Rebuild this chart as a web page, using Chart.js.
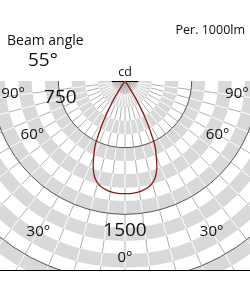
<!DOCTYPE html>
<html><head><meta charset="utf-8">
<script src="https://cdn.jsdelivr.net/npm/chart.js@4/dist/chart.umd.min.js"></script>
<style>
html,body{margin:0;padding:0;background:#fff;overflow:hidden;}
#wrap{position:relative;width:250px;height:294px;}
canvas{position:absolute;left:0;top:0;}
</style></head><body>
<div id="wrap"><canvas id="c" width="250" height="294"></canvas></div>
<script>
// ---- data ----
const gammaAngles = [0, 2.5, 5, 7.5, 10, 12.5, 15, 17.5, 20, 22.5, 25, 26, 27, 28, 29, 30, 31, 32, 33, 34, 35];
const intensityCd = [1268, 1267, 1263, 1255, 1240, 1220, 1188, 1135, 1045, 920, 790, 700, 615, 530, 450, 365, 275, 185, 105, 40, 0];
const ringValues = [750, 1500, 2250];
const ringLabels = ['750', '1500'];
const angleLabels = ['90°', '60°', '30°', '0°'];
const bandStep = 150;
const spokeStep = 7.5;
const titleTexts = ['Per. 1000lm', 'Beam angle', '55°', 'cd'];

// mirrored curve (C0 / C180 plane)
const angles = gammaAngles.slice().reverse().map(a => -a).concat(gammaAngles.slice(1));
const values = intensityCd.slice().reverse().concat(intensityCd.slice(1));
const pts = angles.map((a, i) => {
  const t = a * Math.PI / 180;
  return {x: values[i] * Math.sin(t), y: values[i] * Math.cos(t)};
});

const FONT = "'Open Sans', sans-serif";

const polarGrid = {
  id: 'polarGrid',
  beforeDatasetsDraw(chart) {
    const {ctx, chartArea: a, scales: {x, y}} = chart;
    const cx = x.getPixelForValue(0), cy = y.getPixelForValue(0);
    const px = v => Math.abs(x.getPixelForValue(v) - cx);
    const maxR = 3000;
    ctx.save();
    ctx.beginPath(); ctx.rect(a.left, a.top, a.right - a.left, a.bottom - a.top); ctx.clip();
    for (let i = 0; i * bandStep < maxR; i++) {
      if (i % 2 === 1) {
        ctx.beginPath();
        ctx.arc(cx, cy, px((i + 1) * bandStep), 0, Math.PI * 2);
        ctx.arc(cx, cy, px(i * bandStep), 0, Math.PI * 2, true);
        ctx.fillStyle = '#d9d9d9';
        ctx.fill();
      }
    }
    ctx.lineWidth = 1;
    for (let g = -90 + spokeStep; g < 90; g += spokeStep) {
      const t = g * Math.PI / 180;
      for (let i = 0; i * bandStep < maxR; i++) {
        const r1 = px(i * bandStep), r2 = px((i + 1) * bandStep);
        ctx.beginPath();
        ctx.moveTo(cx + r1 * Math.sin(t), cy + r1 * Math.cos(t));
        ctx.lineTo(cx + r2 * Math.sin(t), cy + r2 * Math.cos(t));
        ctx.strokeStyle = i % 2 ? '#ffffff' : '#b0b0b0';
        ctx.stroke();
      }
    }
    ringValues.forEach(v => {
      ctx.beginPath(); ctx.arc(cx, cy, px(v), 0, Math.PI * 2);
      ctx.strokeStyle = '#555555'; ctx.stroke();
    });
    ctx.restore();
    ctx.save();
    ctx.strokeStyle = '#000'; ctx.lineWidth = 1;
    ctx.beginPath();
    ctx.moveTo(x.getPixelForValue(-bandStep), Math.round(cy) + 0.5);
    ctx.lineTo(x.getPixelForValue(bandStep), Math.round(cy) + 0.5);
    ctx.stroke();
    ctx.beginPath();
    ctx.moveTo(0, Math.round(a.bottom) + 0.5);
    ctx.lineTo(chart.width, Math.round(a.bottom) + 0.5);
    ctx.stroke();
    ctx.restore();
  },
  afterDraw(chart) {
    const {ctx, scales: {x, y}} = chart;
    const pos = (deg, cd) => {
      const t = deg * Math.PI / 180;
      return [x.getPixelForValue(cd * Math.sin(t)), y.getPixelForValue(cd * Math.cos(t))];
    };
    ctx.save();
    ctx.fillStyle = '#111';
    ctx.textAlign = 'center'; ctx.textBaseline = 'middle';
    ctx.font = '15px ' + FONT;
    const angPos = [[83.4, 1267], [59.9, 1204], [29.8, 1960], [0, 1993]];
    angleLabels.forEach((lab, i) => {
      const [d, r] = angPos[i];
      const p1 = pos(-d, r); ctx.fillText(lab, p1[0], p1[1]);
      if (d !== 0) { const p2 = pos(d, r); ctx.fillText(lab, p2[0], p2[1]); }
    });
    ctx.font = '19px ' + FONT;
    let p = pos(-75.3, 752); ctx.fillText(ringLabels[0], p[0], p[1]);
    p = pos(0, 1679); ctx.fillText(ringLabels[1], p[0], p[1]);
    ctx.textBaseline = 'alphabetic';
    ctx.font = '12.5px ' + FONT; ctx.textAlign = 'right';
    ctx.fillText(titleTexts[0], 245, 34);
    ctx.font = '14px ' + FONT; ctx.textAlign = 'left';
    ctx.fillText(titleTexts[1], 7, 45);
    ctx.font = '19px ' + FONT;
    ctx.fillText(titleTexts[2], 28, 66);
    ctx.font = '12.5px ' + FONT; ctx.textAlign = 'center';
    ctx.fillText(titleTexts[3], 125, 76);
    ctx.restore();
  }
};

new Chart(document.getElementById('c'), {
  type: 'scatter',
  data: {datasets: [{
    data: pts, showLine: true, pointRadius: 0, borderColor: '#8b1a1a',
    borderWidth: 1.3, tension: 0.2, fill: false
  }]},
  options: {
    responsive: false, animation: false,
    layout: {padding: {top: 81, bottom: 24, left: 0, right: 0}},
    plugins: {legend: {display: false}, tooltip: {enabled: false}},
    scales: {
      x: {type: 'linear', min: -1406, max: 1406, display: false},
      y: {type: 'linear', min: 0, max: 2126, reverse: true, display: false}
    }
  },
  plugins: [polarGrid]
});
</script>
</body></html>
